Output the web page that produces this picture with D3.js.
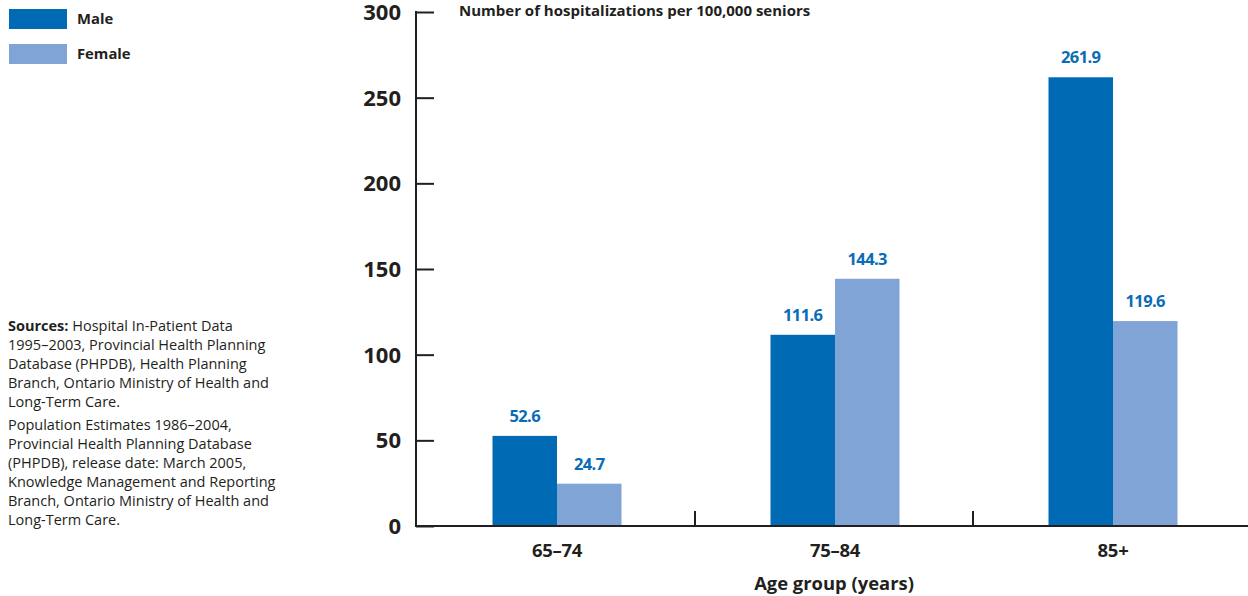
<!DOCTYPE html>
<html>
<head>
<meta charset="utf-8">
<script src="https://cdn.jsdelivr.net/npm/d3@7"></script>
<style>
  html, body { margin: 0; padding: 0; background: #fff; }
  svg { display: block; font-family: "Open Sans", "Noto Sans", sans-serif; }
</style>
</head>
<body>
<svg id="chart" width="1248" height="596"></svg>
<script>
// Hospitalization rates per 100,000 seniors, by age group and sex
const categories = ["65–74", "75–84", "85+"];
const seriesNames = ["Male", "Female"];
const maleValues = [52.6, 111.6, 261.9];
const femaleValues = [24.7, 144.3, 119.6];
const yTicks = [0, 50, 100, 150, 200, 250, 300];
const seriesColors = ["#006ab5", "#7fa4d5"];

const sourceLines1 = [
  ["Sources:", " Hospital In-Patient Data"],
  ["", "1995–2003, Provincial Health Planning"],
  ["", "Database (PHPDB), Health Planning"],
  ["", "Branch, Ontario Ministry of Health and"],
  ["", "Long-Term Care."]
];
const sourceLines2 = [
  "Population Estimates 1986–2004,",
  "Provincial Health Planning Database",
  "(PHPDB), release date: March 2005,",
  "Knowledge Management and Reporting",
  "Branch, Ontario Ministry of Health and",
  "Long-Term Care."
];

const svg = d3.select("#chart");
const ink = "#231f20";
const labelBlue = "#0a6cb6";

const plot = { left: 416, right: 1250, top: 12, bottom: 526 };

const x = d3.scaleBand().domain(categories).range([plot.left + 1, plot.right + 1]);
const y = d3.scaleLinear().domain([0, 300]).range([plot.bottom, plot.top]);
const barW = 64.5;

const groups = categories.map((c, i) => ({
  cat: c,
  vals: [maleValues[i], femaleValues[i]]
}));

// bars with value labels
const g = svg.append("g");
groups.forEach(d => {
  const cx = x(d.cat) + x.bandwidth() / 2 + 1;
  d.vals.forEach((v, j) => {
    const bx = cx - barW + j * barW;
    g.append("rect")
      .attr("x", bx)
      .attr("y", y(v))
      .attr("width", barW)
      .attr("height", y(0) - y(v))
      .attr("fill", seriesColors[j]);
    g.append("text")
      .attr("x", bx + barW / 2)
      .attr("y", y(v) - 14)
      .attr("text-anchor", "middle")
      .attr("fill", labelBlue)
      .attr("font-weight", 700)
      .attr("font-size", 16.5)
      .attr("letter-spacing", -0.6)
      .text(v.toFixed(1));
  });
});

// y axis
const yAxis = d3.axisRight(y).tickValues(yTicks).tickSize(18).tickFormat("");
const yg = svg.append("g").attr("transform", `translate(${plot.left},0)`).call(yAxis);
yg.select(".domain").remove();
yg.selectAll(".tick line").attr("stroke", ink).attr("stroke-width", 2);
svg.append("line")
  .attr("x1", plot.left).attr("x2", plot.left)
  .attr("y1", y(300) - 1).attr("y2", y(0))
  .attr("stroke", ink).attr("stroke-width", 2);
svg.append("g").selectAll("text").data(yTicks).join("text")
  .attr("x", 401)
  .attr("y", d => y(d) + 8)
  .attr("text-anchor", "end")
  .attr("fill", ink)
  .attr("font-weight", 700)
  .attr("font-size", 22)
  .text(d => d);

// x axis
svg.append("line")
  .attr("x1", plot.left - 1).attr("x2", 1248)
  .attr("y1", y(0)).attr("y2", y(0))
  .attr("stroke", ink).attr("stroke-width", 2);
svg.append("g").selectAll("line").data(categories.slice(1)).join("line")
  .attr("x1", d => x(d)).attr("x2", d => x(d))
  .attr("y1", y(0)).attr("y2", y(0) - 15)
  .attr("stroke", ink).attr("stroke-width", 2);
svg.append("g").selectAll("text").data(categories).join("text")
  .attr("x", d => x(d) + x.bandwidth() / 2 + 1)
  .attr("y", 557)
  .attr("text-anchor", "middle")
  .attr("fill", ink)
  .attr("font-weight", 700)
  .attr("font-size", 18.5)
  .attr("letter-spacing", -0.3)
  .text(d => d);

svg.append("text")
  .attr("x", 834)
  .attr("y", 590)
  .attr("text-anchor", "middle")
  .attr("fill", ink)
  .attr("font-weight", 700)
  .attr("font-size", 18.4)
  .text("Age group (years)");

// y-axis title
svg.append("text")
  .attr("x", 459)
  .attr("y", 16)
  .attr("fill", ink)
  .attr("font-weight", 700)
  .attr("font-size", 15)
  .text("Number of hospitalizations per 100,000 seniors");

// legend
seriesNames.forEach((name, i) => {
  svg.append("rect")
    .attr("x", 9).attr("y", 9 + i * 35)
    .attr("width", 58).attr("height", 20)
    .attr("fill", seriesColors[i]);
  svg.append("text")
    .attr("x", 77).attr("y", 24 + i * 35)
    .attr("fill", ink)
    .attr("font-weight", 700)
    .attr("font-size", 14.8)
    .text(name);
});

// sources
const src = svg.append("g").attr("fill", ink).attr("font-size", 14.5);
sourceLines1.forEach((parts, i) => {
  const t = src.append("text").attr("x", 8).attr("y", 331 + i * 19);
  if (parts[0]) t.append("tspan").attr("font-weight", 700).text(parts[0]);
  t.append("tspan").text(parts[1]);
});
sourceLines2.forEach((line, i) => {
  src.append("text").attr("x", 8).attr("y", 430 + i * 19).text(line);
});
</script>
</body>
</html>
